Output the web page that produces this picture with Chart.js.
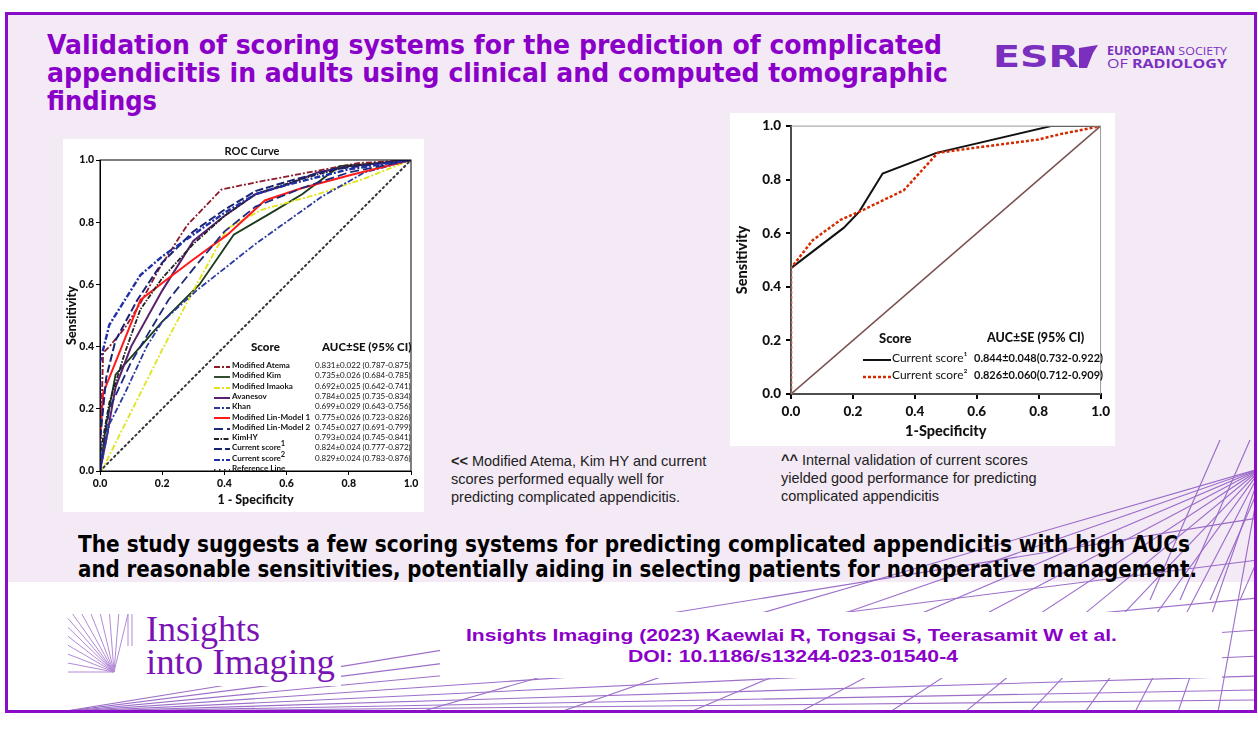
<!DOCTYPE html>
<html>
<head>
<meta charset="utf-8">
<script src="https://cdn.jsdelivr.net/npm/chart.js@4.4.0/dist/chart.umd.min.js"></script>
<style>
  body{margin:0;width:1258px;height:747px;position:relative;overflow:hidden;background:#fff;font-family:"Liberation Sans",Arial,sans-serif}
  .abs{position:absolute}
  #frame{left:5px;top:12px;width:1246px;height:695px;border:3px solid #8a0bc8}
  #lav{left:8px;top:15px;width:1246px;height:567px;background:#f4eaf6}
  .nar{font-family:"Liberation Sans Narrow","Arial Narrow","DejaVu Sans Condensed",sans-serif;font-weight:bold}
  .fx{position:absolute;white-space:nowrap;transform-origin:left center}
  .t{color:#8a00c8;font-size:26px;line-height:28px}
  .s{color:#000;font-size:23px;line-height:25px}
  .c{color:#8a00c8;font-weight:bold;font-size:17px;line-height:21px}
  .box{background:#fff}
  .cap{font-size:14.5px;line-height:18px;color:#222;white-space:nowrap}
  .lg{font-family:Lato,"Open Sans",sans-serif;color:#111;white-space:nowrap}
</style>
</head>
<body>
<div id="frame" class="abs"></div>
<div id="lav" class="abs"></div>
<svg id="decor" class="abs" style="left:0;top:0" width="1258" height="747"></svg>

<!-- title -->
<div class="fx nar t" data-w="895" style="left:47px;top:31px">Validation of scoring systems for the prediction of complicated</div>
<div class="fx nar t" data-w="901" style="left:47px;top:59px">appendicitis in adults using clinical and computed tomographic</div>
<div class="fx nar t" data-w="110" style="left:47px;top:87px">findings</div>

<!-- ESR logo -->
<div class="fx" data-w="86" style="left:993px;top:40px;line-height:32px;color:#7b2fbf;font-family:'DejaVu Sans',sans-serif;font-weight:bold;font-size:31px">ESR</div>
<svg class="abs" style="left:1079px;top:45px" width="19" height="24"><polygon points="0,3 19,0 14,8 8,23 0,23" fill="#7b2fbf"/></svg>
<div class="fx" data-w="120" style="left:1107px;top:44px;color:#7b2fbf;font-family:'Open Sans','Liberation Sans',sans-serif;font-size:11.5px;line-height:13px"><b>EUROPEAN</b> SOCIETY</div>
<div class="fx" data-w="120" style="left:1107px;top:56px;color:#7b2fbf;font-family:'Open Sans','Liberation Sans',sans-serif;font-size:13px;line-height:15px">OF <b>RADIOLOGY</b></div>

<div class="abs box" style="left:63px;top:139px;width:361px;height:373px"></div>
<div class="abs box" style="left:730px;top:113px;width:385px;height:333px"></div>

<div class="abs" style="left:63px;top:139px;width:361px;height:373px"><canvas id="rocAll"></canvas></div>
<div class="abs" style="left:730px;top:113px;width:385px;height:333px"><canvas id="rocInt"></canvas></div>

<div class="abs lg" style="left:192px;top:144px;width:120px;text-align:center;font-weight:bold;font-size:11px">ROC Curve</div>
<div id="legAll" class="abs lg" style="left:214px;top:341px;width:200px"></div>
<div id="legInt" class="abs lg" style="left:860px;top:329px;width:250px"></div>

<div class="abs cap" style="left:451px;top:452px"><b>&lt;&lt;</b> Modified Atema, Kim HY and current<br>scores performed equally well for<br>predicting complicated appendicitis.</div>
<div class="abs cap" style="left:781px;top:451px"><b>^^</b> Internal validation of current scores<br>yielded good performance for predicting<br>complicated appendicitis</div>

<!-- summary -->
<div class="fx nar s" data-w="1112" style="left:78px;top:532px">The study suggests a few scoring systems for predicting complicated appendicitis with high AUCs</div>
<div class="fx nar s" data-w="1119" style="left:78px;top:557px">and reasonable sensitivities, potentially aiding in selecting patients for nonoperative management.</div>

<!-- citation -->
<div class="abs" style="left:440px;top:612px;width:782px;height:66px;background:#fff"></div>
<div class="fx c" data-w="651" style="left:466px;top:625px">Insights Imaging (2023) Kaewlai R, Tongsai S, Teerasamit W et al.</div>
<div class="fx c" data-w="330" style="left:628px;top:646px">DOI: 10.1186/s13244-023-01540-4</div>

<!-- Insights into Imaging logo -->
<div class="abs" style="left:66px;top:600px;width:275px;height:86px;background:#fff"></div>
<svg id="iiIcon" class="abs" style="left:66px;top:610px" width="70" height="66"></svg>
<div class="fx" data-w="114" style="left:146px;top:611px;color:#7a12b5;font-family:'Liberation Serif','DejaVu Serif',serif;font-size:36px;line-height:36px">Insights</div>
<div class="fx" data-w="189" style="left:146px;top:644px;color:#7a12b5;font-family:'Liberation Serif','DejaVu Serif',serif;font-size:36px;line-height:36px">into Imaging</div>

<script>
// ---- ROC data, all scores (1 - specificity / sensitivity) ----
const FPR_ATEMA = [0, 0.01, 0.03, 0.08, 0.13, 0.19, 0.28, 0.39, 0.51, 0.67, 0.83, 1];
const TPR_ATEMA = [0, 0.38, 0.40, 0.46, 0.54, 0.65, 0.79, 0.905, 0.93, 0.96, 0.99, 1];
const FPR_KIM = [0, 0.02, 0.05, 0.13, 0.2, 0.32, 0.43, 0.55, 0.65, 0.77, 0.9, 1];
const TPR_KIM = [0, 0.15, 0.31, 0.40, 0.48, 0.60, 0.76, 0.83, 0.89, 0.98, 0.99, 1];
const FPR_IMAOKA = [0, 0.01, 0.20, 0.30, 0.41, 0.52, 0.70, 0.85, 1];
const TPR_IMAOKA = [0, 0.01, 0.39, 0.58, 0.78, 0.84, 0.89, 0.94, 1];
const FPR_AVANESOV = [0, 0.02, 0.05, 0.10, 0.20, 0.30, 0.40, 0.50, 0.60, 0.70, 0.80, 1];
const TPR_AVANESOV = [0, 0.10, 0.27, 0.40, 0.58, 0.74, 0.82, 0.89, 0.92, 0.96, 0.98, 1];
const FPR_KHAN = [0, 0.03, 0.08, 0.15, 0.20, 0.31, 0.50, 0.71, 0.85, 1];
const TPR_KHAN = [0, 0.15, 0.25, 0.40, 0.48, 0.58, 0.73, 0.88, 0.96, 1];
const FPR_LIN1 = [0, 0, 0.01, 0.07, 0.13, 0.22, 0.30, 0.41, 0.53, 0.65, 0.80, 1];
const TPR_LIN1 = [0, 0.10, 0.25, 0.40, 0.55, 0.62, 0.68, 0.76, 0.87, 0.91, 0.95, 1];
const FPR_LIN2 = [0, 0.03, 0.10, 0.22, 0.30, 0.40, 0.50, 0.65, 0.80, 1];
const TPR_LIN2 = [0, 0.20, 0.35, 0.55, 0.65, 0.77, 0.85, 0.91, 0.96, 1];
const FPR_KIMHY = [0, 0, 0.03, 0.08, 0.13, 0.20, 0.30, 0.40, 0.50, 0.65, 0.80, 1];
const TPR_KIMHY = [0, 0.05, 0.22, 0.38, 0.52, 0.62, 0.73, 0.82, 0.89, 0.94, 0.98, 1];
const FPR_CUR1 = [0, 0, 0.02, 0.05, 0.12, 0.20, 0.30, 0.40, 0.50, 0.60, 0.75, 1];
const TPR_CUR1 = [0, 0.10, 0.30, 0.42, 0.55, 0.67, 0.77, 0.84, 0.90, 0.93, 0.97, 1];
const FPR_CUR2 = [0, 0, 0.03, 0.08, 0.13, 0.20, 0.30, 0.40, 0.50, 0.60, 0.80, 1];
const TPR_CUR2 = [0, 0.35, 0.47, 0.55, 0.63, 0.69, 0.76, 0.83, 0.89, 0.92, 0.97, 1];
const FPR_REF = [0, 1];
const TPR_REF = [0, 1];

const SCORE_NAMES = ['Modified Atema','Modified Kim','Modified Imaoka','Avanesov','Khan','Modified Lin-Model 1','Modified Lin-Model 2','KimHY','Current score<sup>1</sup>','Current score<sup>2</sup>','Reference Line'];
const SCORE_AUC = ['0.831±0.022 (0.787-0.875)','0.735±0.026 (0.684-0.785)','0.692±0.025 (0.642-0.741)','0.784±0.025 (0.735-0.834)','0.699±0.029 (0.643-0.756)','0.775±0.026 (0.723-0.826)','0.745±0.027 (0.691-0.799)','0.793±0.024 (0.745-0.841)','0.824±0.024 (0.777-0.872)','0.829±0.024 (0.783-0.876)',''];

// ---- internal validation ROC ----
const FPR_INT1 = [0, 0, 0.17, 0.22, 0.296, 0.47, 0.84, 1];
const TPR_INT1 = [0, 0.47, 0.62, 0.68, 0.823, 0.90, 1, 1];
const FPR_INT2 = [0, 0, 0.07, 0.16, 0.22, 0.364, 0.474, 0.60, 0.80, 0.87, 1];
const TPR_INT2 = [0, 0.47, 0.574, 0.65, 0.68, 0.76, 0.90, 0.92, 0.95, 0.97, 1];
const INT_NAMES = ['Current score¹','Current score²'];
const INT_AUC = ['0.844±0.048(0.732-0.922)','0.826±0.060(0.712-0.909)'];

const TICKS = [0, 0.2, 0.4, 0.6, 0.8, 1.0];

function pts(xs, ys){ return xs.map((x,i)=>({x:x, y:ys[i]})); }

// styles for left chart, same order as SCORE_NAMES
const STY = [
  {c:'#8b1a2b', d:[6,2,2,2], w:1.8},
  {c:'#1b3a1b', d:[], w:1.8},
  {c:'#e3e31c', d:[6,2,2,2], w:1.8},
  {c:'#5a1f6e', d:[], w:2},
  {c:'#2b3a9e', d:[6,2,2,2], w:1.8},
  {c:'#ff1a1a', d:[], w:2},
  {c:'#1f2a7a', d:[9,4], w:1.8},
  {c:'#222222', d:[5,1.5,1.5,1.5], w:1.8},
  {c:'#1a2370', d:[8,3], w:2},
  {c:'#1f2fa8', d:[6,2,2,2], w:2.4},
  {c:'#333333', d:[1.5,3.5], w:2}
];
const SERIES = [
  pts(FPR_ATEMA,TPR_ATEMA), pts(FPR_KIM,TPR_KIM), pts(FPR_IMAOKA,TPR_IMAOKA),
  pts(FPR_AVANESOV,TPR_AVANESOV), pts(FPR_KHAN,TPR_KHAN), pts(FPR_LIN1,TPR_LIN1),
  pts(FPR_LIN2,TPR_LIN2), pts(FPR_KIMHY,TPR_KIMHY), pts(FPR_CUR1,TPR_CUR1),
  pts(FPR_CUR2,TPR_CUR2), pts(FPR_REF,TPR_REF)
];

// box around plot area
const frameBox = {
  id:'frameBox',
  afterDraw(chart, args, o){
    const a = chart.chartArea, ctx = chart.ctx;
    ctx.save(); ctx.strokeStyle = o.color; ctx.lineWidth = o.width;
    ctx.strokeRect(a.left, a.top, a.right-a.left, a.bottom-a.top);
    ctx.restore();
  }
};

function axis(opts){
  return {
    type:'linear', min:0, max:1, afterBuildTicks: s => { s.ticks = TICKS.map(v=>({value:v})); },
    ticks:{ callback:v=>v.toFixed(1), color:'#111', font:{family:'Lato', weight:'900', size:opts.tick}, padding:opts.pad, maxRotation:0, autoSkip:false },
    grid:{ display:true, drawOnChartArea:false, drawTicks:true, tickLength:opts.tl, color:'#000', lineWidth:opts.tw },
    border:{ display:true, color:'#000', width:opts.bw },
    title:{ display:true, text:opts.title, color:'#111', font:{family:'Lato', weight:'900', size:opts.ts}, padding:opts.tp },
    afterFit: s => { if(opts.h) s.height = opts.h; if(opts.w) s.width = opts.w; }
  };
}

Chart.defaults.animation = false;

new Chart(document.getElementById('rocAll'), {
  type:'line',
  data:{ datasets: SERIES.map((d,i)=>({
    data:d, borderColor:STY[i].c, borderDash:STY[i].d, borderWidth:STY[i].w,
    pointRadius:0, tension:0, fill:false, borderCapStyle: i===10 ? 'round' : 'butt'
  })).reverse() },
  options:{
    responsive:true, maintainAspectRatio:false,
    layout:{ padding:{ top:21, right:13, left:0, bottom:0 } },
    plugins:{ legend:{display:false}, tooltip:{enabled:false}, frameBox:{color:'#000', width:1} },
    scales:{
      x: axis({tick:10.5, pad:2, tl:4, tw:1, bw:1, title:'1 - Specificity', ts:12.5, tp:{top:2,bottom:5}, h:41}),
      y: axis({tick:10.5, pad:2, tl:4, tw:1, bw:1, title:'Sensitivity', ts:12.5, tp:{top:1,bottom:1}, w:37})
    }
  },
  plugins:[frameBox]
});

new Chart(document.getElementById('rocInt'), {
  type:'line',
  data:{ datasets:[
    { data:pts(FPR_INT2,TPR_INT2), borderColor:'#d42a00', borderDash:[3,2], borderWidth:2.5, pointRadius:0, tension:0 },
    { data:pts(FPR_INT1,TPR_INT1), borderColor:'#111111', borderWidth:2, pointRadius:0, tension:0 },
    { data:pts(FPR_REF,TPR_REF), borderColor:'#7a5050', borderWidth:1.6, pointRadius:0, tension:0 }
  ]},
  options:{
    responsive:true, maintainAspectRatio:false,
    layout:{ padding:{ top:11, right:14, left:0, bottom:0 } },
    plugins:{ legend:{display:false}, tooltip:{enabled:false}, frameBox:{color:'#9a9a9a', width:1} },
    scales:{
      x: axis({tick:13.5, pad:5, tl:5, tw:2, bw:2, title:'1-Specificity', ts:14.5, tp:{top:3,bottom:6}, h:52}),
      y: axis({tick:13.5, pad:5, tl:5, tw:2, bw:2, title:'Sensitivity', ts:14.5, tp:{top:4,bottom:2}, w:61})
    }
  },
  plugins:[frameBox]
});

// ---- HTML legends ----
function sample(c, d, w, len){
  return `<svg width="${len}" height="6" style="vertical-align:middle"><line x1="0" y1="3" x2="${len}" y2="3" stroke="${c}" stroke-width="${w}" stroke-dasharray="${d.join(',')}"/></svg>`;
}
const legAll = document.getElementById('legAll');
let h = `<div style="position:absolute;left:37px;top:-1px;font-weight:900;font-size:11.5px">Score</div>
<div style="position:absolute;left:108px;top:-1px;font-weight:900;font-size:11.5px">AUC±SE (95% CI)</div>`;
SCORE_NAMES.forEach((n,i)=>{
  const top = 19 + i*10.3;
  h += `<div style="position:absolute;left:0;top:${top}px;height:10px;line-height:10px">${sample(STY[i].c,STY[i].d,Math.min(STY[i].w,2),16)}</div>
  <div style="position:absolute;left:18px;top:${top}px;font-weight:bold;font-size:8.1px;line-height:10px">${n.replace(/<sup>/,'<sup style="font-size:7.5px;line-height:0">')}</div>
  <div style="position:absolute;left:101px;top:${top}px;font-size:8px;line-height:10px">${SCORE_AUC[i]}</div>`;
});
legAll.innerHTML = h;

const legInt = document.getElementById('legInt');
let g = `<div style="position:absolute;left:19px;top:1px;font-weight:900;font-size:13px">Score</div>
<div style="position:absolute;left:127px;top:1px;font-weight:900;font-size:12.5px">AUC±SE (95% CI)</div>`;
const intSty = [{c:'#111',d:[],w:2},{c:'#d42a00',d:[3,2],w:2.5}];
INT_NAMES.forEach((n,i)=>{
  const top = 21 + i*17;
  g += `<div style="position:absolute;left:3px;top:${top}px;line-height:16px">${sample(intSty[i].c,intSty[i].d,intSty[i].w,28)}</div>
  <div style="position:absolute;left:32px;top:${top}px;font-size:12px;line-height:16px">${n}</div>
  <div style="position:absolute;left:114px;top:${top}px;font-size:11px;font-weight:bold;line-height:16px">${INT_AUC[i]}</div>`;
});
legInt.innerHTML = g;

// ---- stretch text lines to the measured widths ----
document.querySelectorAll('.fx[data-w]').forEach(el=>{
  const w = el.getBoundingClientRect().width;
  el.style.transform = `scaleX(${(+el.dataset.w / w).toFixed(4)})`;
});

// ---- background decoration lines ----
const NS = 'http://www.w3.org/2000/svg';
const decor = document.getElementById('decor');
const clip = document.createElementNS(NS,'clipPath'); clip.id='cp';
const cr = document.createElementNS(NS,'rect');
cr.setAttribute('x',8); cr.setAttribute('y',15); cr.setAttribute('width',1246); cr.setAttribute('height',695);
clip.appendChild(cr); decor.appendChild(clip);
const gl = document.createElementNS(NS,'g'); gl.setAttribute('clip-path','url(#cp)');
gl.setAttribute('stroke','#7c3fb8'); gl.setAttribute('stroke-width','1.1'); gl.setAttribute('opacity','0.75');
decor.appendChild(gl);
function ln(p, x1,y1,x2,y2){
  const l = document.createElementNS(NS,'line');
  l.setAttribute('x1',x1); l.setAttribute('y1',y1); l.setAttribute('x2',x2); l.setAttribute('y2',y2);
  p.appendChild(l);
}
[420, 560, 690, 800, 890, 965, 1030, 1085, 1135, 1178, 1218].forEach(xb => ln(gl, 1262, 468, xb, 712));
[700, 690, 676, 656, 630, 598, 560, 518].forEach(yr => ln(gl, 60, 712, 1258, yr));
[1150, 1180, 1210, 1240].forEach(xs => ln(gl, xs, 600, xs + 70, 440));

const icon = document.getElementById('iiIcon');
const gi = document.createElementNS(NS,'g'); gi.setAttribute('stroke','#b28ad6'); gi.setAttribute('stroke-width','1');
icon.appendChild(gi);
for(let k=0;k<14;k++){
  const t = k/13;
  const ex = t < 0.5 ? 2 : 2 + (t-0.5)*2*60;
  const ey = t < 0.5 ? 62 - t*2*58 : 4;
  ln(gi, 48, 62, ex, ey);
}
ln(gi, 62, 4, 62, 36); ln(gi, 66, 4, 66, 36);
</script>
</body>
</html>
